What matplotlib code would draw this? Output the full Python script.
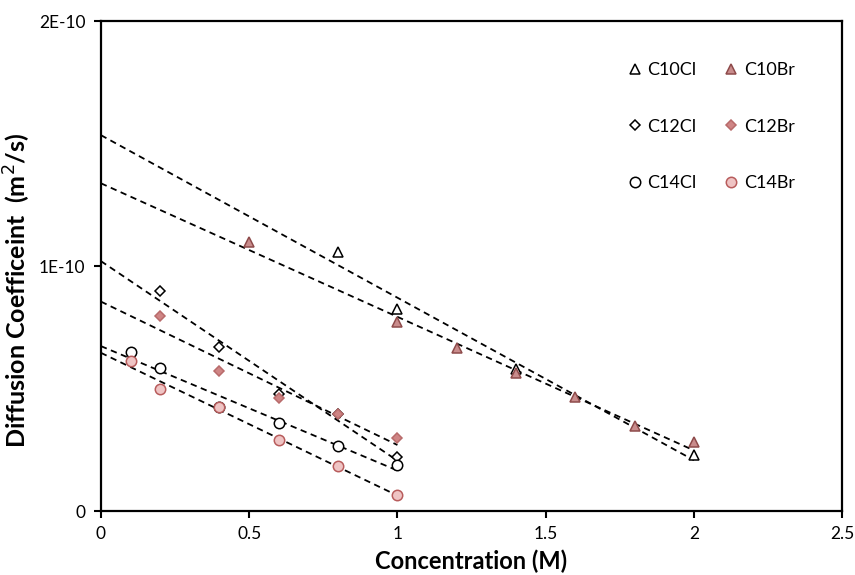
import numpy as np
import matplotlib.pyplot as plt

plt.rcParams['font.family'] = ['Lato', 'DejaVu Sans']

# concentrations (M) and diffusion coefficients (1E-10 m2/s)
x_c10cl = [0.8, 1.0, 1.4, 2.0]
y_c10cl = [1.057, 0.824, 0.58, 0.229]
x_c10br = [0.5, 1.0, 1.2, 1.4, 1.6, 1.8, 2.0]
y_c10br = [1.098, 0.771, 0.665, 0.563, 0.465, 0.347, 0.282]
x_c12cl = [0.2, 0.4, 0.6, 0.8, 1.0]
y_c12cl = [0.898, 0.669, 0.478, 0.396, 0.22]
x_c12br = [0.2, 0.4, 0.6, 0.8, 1.0]
y_c12br = [0.796, 0.571, 0.461, 0.396, 0.298]
x_c14cl = [0.1, 0.2, 0.4, 0.6, 0.8, 1.0]
y_c14cl = [0.649, 0.584, 0.424, 0.359, 0.265, 0.188]
x_c14br = [0.1, 0.2, 0.4, 0.6, 0.8, 1.0]
y_c14br = [0.612, 0.498, 0.424, 0.29, 0.184, 0.065]

series = [
    ('C10Cl', x_c10cl, y_c10cl, '^', 'white', 'black', 7.5),
    ('C12Cl', x_c12cl, y_c12cl, 'D', 'white', 'black', 5.5),
    ('C14Cl', x_c14cl, y_c14cl, 'o', 'white', 'black', 7.5),
    ('C10Br', x_c10br, y_c10br, '^', '#c98c8c', '#8e4b4b', 7.5),
    ('C12Br', x_c12br, y_c12br, 'D', '#cf8585', '#b86a6a', 5.5),
    ('C14Br', x_c14br, y_c14br, 'o', '#efc4c4', '#b85c5c', 7.5),
]

fig = plt.figure(figsize=(8.55, 5.75), dpi=100)
ax = fig.add_axes([0.118, 0.111, 0.867, 0.852])

for name, xs, ys, m, fc, ec, ms in series:
    xs = np.array(xs)
    ys = np.array(ys) * 1e-10
    # linear trendline from 0 to last point, as in Excel
    k, b = np.polyfit(xs, ys, 1)
    xl = np.array([0, xs.max()])
    ax.plot(xl, k * xl + b, color='black', linestyle=(0, (3.5, 2.5)), linewidth=1.3, zorder=2)
    ax.plot(xs, ys, linestyle='none', marker=m, markersize=ms, markerfacecolor=fc,
            markeredgecolor=ec, markeredgewidth=1.1, label=name, zorder=3)

ax.set_xlim(0, 2.5)
ax.set_ylim(0, 2e-10)
ax.set_xticks([0, 0.5, 1, 1.5, 2, 2.5])
ax.set_xticklabels(['0', '0.5', '1', '1.5', '2', '2.5'])
ax.set_yticks([0, 1e-10, 2e-10])
ax.set_yticklabels(['0', '1E-10', '2E-10'])
ax.tick_params(direction='out', length=5, width=1.5, labelsize=12.5, colors='black', pad=6)
for s in ax.spines.values():
    s.set_linewidth(1.6)

ax.set_xlabel('Concentration (M)', fontsize=17, fontweight='bold', labelpad=5)
ax.set_ylabel('Diffusion Coefficeint  (m$^2$/s)', fontsize=18, fontweight='bold')
ax.yaxis.set_label_coords(-0.092, 0.45)

ax.legend(ncol=2, frameon=False, fontsize=13, loc='upper right', bbox_to_anchor=(0.958, 0.95),
          labelspacing=2.25, columnspacing=1.5, handlelength=0.8, handletextpad=0.3)

fig.savefig('out.png', dpi=100)
